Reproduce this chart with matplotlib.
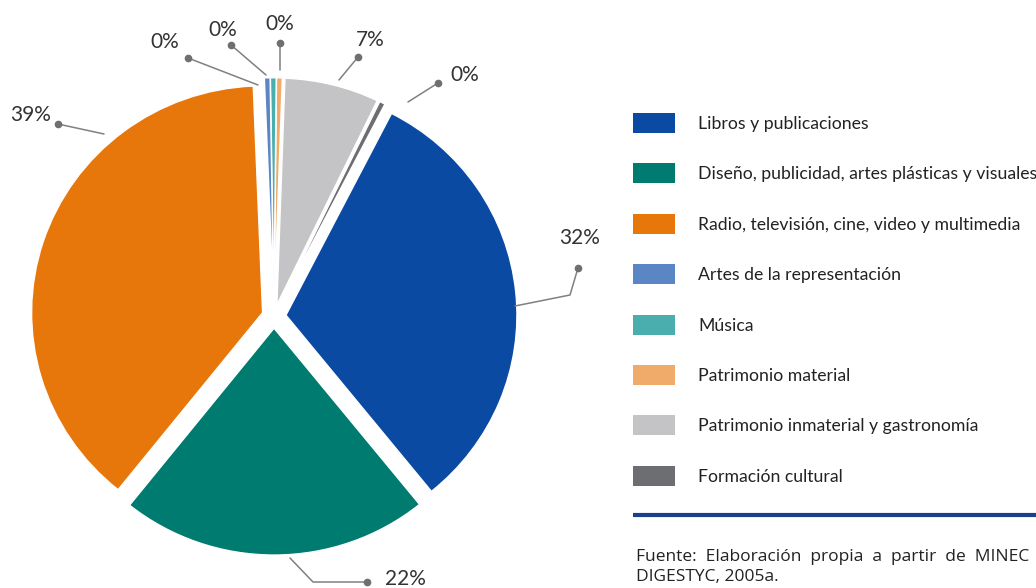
import matplotlib.pyplot as plt
from matplotlib.patches import Rectangle

# categories as listed in the legend
categories = [
    "Libros y publicaciones",
    "Diseño, publicidad, artes plásticas y visuales",
    "Radio, televisión, cine, video y multimedia",
    "Artes de la representación",
    "Música",
    "Patrimonio material",
    "Patrimonio inmaterial y gastronomía",
    "Formación cultural",
]
shares = [31.6, 21.6, 38.6, 0.4, 0.4, 0.4, 6.6, 0.4]
colors = ["#0b4aa2", "#007b6f", "#e8770b", "#5b86c5",
          "#4aaeae", "#f0ab6a", "#c4c4c6", "#6d6e72"]

# slices go counter-clockwise from 12 o'clock in this order
pie_order = [5, 4, 3, 2, 1, 0, 7, 6]

source_lines = ["Fuente:  Elaboración  propia  a  partir  de  MINEC",
                "DIGESTYC, 2005a."]

# leader layout in image pixels: polyline (slice -> dot) and text centre
leaders = {
    3: ([(258, 85), (188, 58)], (165, 42)),
    4: ([(266, 75), (231, 45)], (223, 30)),
    5: ([(280, 70), (280, 43)], (280, 24)),
    6: ([(339, 80), (358, 57)], (370, 40)),
    7: ([(408, 102), (438, 83)], (465, 75)),
    0: ([(515, 306), (570, 295), (578, 268)], (580, 238)),
    1: ([(290, 558), (313, 582), (367, 582)], (405, 579)),
    2: ([(104, 134), (58, 124)], (31, 115)),
}

W, H = 1036, 588
fig = plt.figure(figsize=(W / 100, H / 100), dpi=100)

# pie axes, slightly squashed vertically like the source image
r_px, sq = 231, 0.982
cx, cy = 274, H - 316.4
pw, ph = 2.2 * r_px, 2.2 * r_px * sq
ax = fig.add_axes([(cx - pw / 2) / W, (cy - ph / 2) / H, pw / W, ph / H])
ax.pie(
    [shares[i] for i in pie_order],
    colors=[colors[i] for i in pie_order],
    startangle=88,
    counterclock=True,
    explode=[0.052] * len(pie_order),
    wedgeprops=dict(edgecolor="white", linewidth=1.0),
)
ax.set_xlim(-1.1, 1.1)
ax.set_ylim(-1.1, 1.1)
ax.set_aspect("auto")
ax.axis("off")

# overlay in image pixel coordinates
ov = fig.add_axes([0, 0, 1, 1])
ov.set_xlim(0, W)
ov.set_ylim(H, 0)
ov.axis("off")
ov.patch.set_alpha(0)

lab_font = ["Lato", "DejaVu Sans"]
for i, (pts, (tx, ty)) in leaders.items():
    xs = [p[0] for p in pts]
    ys = [p[1] for p in pts]
    ov.plot(xs, ys, color="#808080", lw=1.1, solid_capstyle="round")
    ov.plot(xs[-1], ys[-1], "o", color="#6f6f6f", ms=4.5)
    ov.text(tx, ty, f"{shares[i]:.0f}%", ha="center", va="center",
            fontsize=15, color="#333333", family=lab_font)

# legend
for k, (name, col) in enumerate(zip(categories, colors)):
    yc = 123 + k * 50.4
    ov.add_patch(Rectangle((633, yc - 10), 42, 20, facecolor=col,
                           edgecolor="none"))
    ov.text(698, yc + 1, name, ha="left", va="center", fontsize=12.7,
            color="#222222", family=lab_font)

ov.plot([633, W], [515, 515], color="#1d3f8c", lw=3, solid_capstyle="butt")
foot_font = ["Open Sans", "DejaVu Sans"]
ov.text(636, 557, source_lines[0], ha="left", va="center", fontsize=12.5,
        color="#222222", family=foot_font)
ov.text(636, 577, source_lines[1], ha="left", va="center", fontsize=12.5,
        color="#222222", family=foot_font)

fig.savefig("out.png", dpi=100, facecolor="white")
